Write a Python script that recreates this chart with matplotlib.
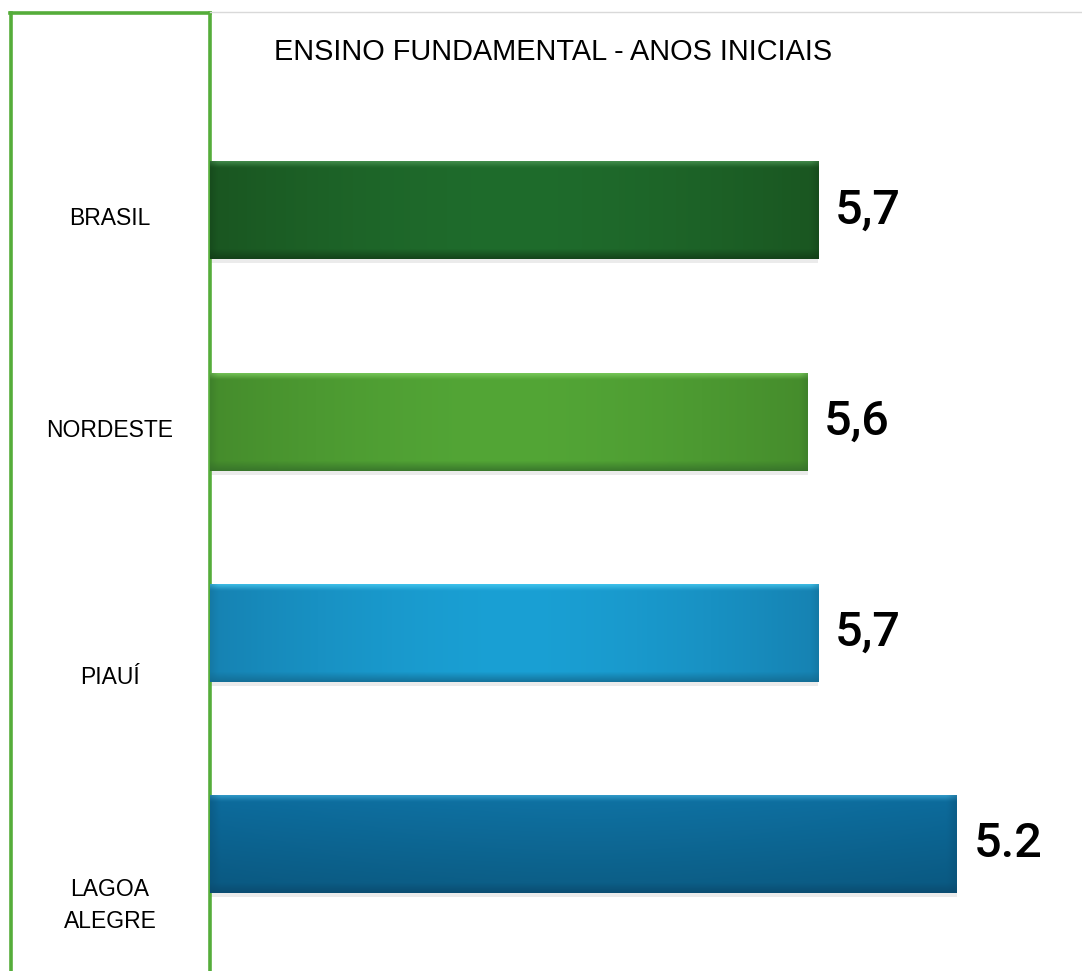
import numpy as np
import matplotlib
matplotlib.use("Agg")
import matplotlib.pyplot as plt
from matplotlib.lines import Line2D
import matplotlib.transforms as mtransforms

# data (bar lengths follow the drawn bars, labels as printed)
categories = ["BRASIL", "NORDESTE", "PIAUÍ", "LAGOA\nALEGRE"]
bar_values = [5.7, 5.6, 5.7, 7.0]
value_labels = ["5,7", "5,6", "5,7", "5.2"]
title = "ENSINO FUNDAMENTAL - ANOS INICIAIS"

# styling: edge colour, centre colour, top highlight, bottom shade
bar_styles = [
    ("#1a5621", "#1f6c2c", "#4f9a58", "#123c17"),
    ("#458c2c", "#53a636", "#84d466", "#35702a"),
    ("#1682b2", "#1aa0d4", "#4cd0f5", "#136a90"),
    ("#0c6796", "#0e6d9c", "#3fa9d6", "#0a4a6e"),
]
label_offsets = [0.04, 0.04, 0.21, 0.29]

plt.rcParams['font.family'] = ['Liberation Sans', 'DejaVu Sans']

W, H = 1082, 971
fig = plt.figure(figsize=(W / 100, H / 100), dpi=100)
ax = fig.add_axes([210 / W, 0, 1 - 210 / W, 1 - 13 / H])

pos = np.arange(len(categories))
bh = 0.465

# soft shadow under each bar
ax.barh(pos + 0.018, bar_values, height=bh, left=0.0, color="#000000", alpha=0.08, zorder=1)
bars = ax.barh(pos, bar_values, height=bh, color="none", zorder=2)


def bar_image(edge, center, hi, lo, vertical=False):
    h, w = 80, 300
    e = np.array(matplotlib.colors.to_rgb(edge))
    c = np.array(matplotlib.colors.to_rgb(center))
    hic = np.array(matplotlib.colors.to_rgb(hi))
    loc = np.array(matplotlib.colors.to_rgb(lo))
    x = np.linspace(0, 1, w)
    y = np.linspace(0, 1, h)
    prof = 1 - np.abs(2 * x - 1) ** 1.6
    img = e[None, None, :] + (c - e)[None, None, :] * prof[None, :, None]
    img = np.repeat(img, h, axis=0)
    if vertical:
        vy = y[:, None, None]
        img = img * (1.05 - 0.2 * vy)
    # top highlight and bottom shade
    top = np.clip(1 - y / 0.07, 0, 1)[:, None, None] * 0.8
    bot = np.clip((y - 0.9) / 0.1, 0, 1)[:, None, None] * 0.8
    img = img * (1 - top) + hic * top
    img = img * (1 - bot) + loc * bot
    # darker ends (bevel)
    ends = np.clip(1 - np.minimum(x, 1 - x) / 0.012, 0, 1)[None, :, None] * 0.35
    img = img * (1 - ends) + loc * ends
    return np.clip(img, 0, 1)


for i, (b, st) in enumerate(zip(bars, bar_styles)):
    x0, y0 = b.get_x(), b.get_y()
    bw, bhh = b.get_width(), b.get_height()
    im = ax.imshow(bar_image(*st, vertical=(i == 3)), extent=(x0, x0 + bw, y0 + bhh, y0),
                   aspect="auto", zorder=3, interpolation="bilinear")
    im.set_clip_path(b)
    ax.annotate(value_labels[i], (x0 + bw, pos[i]), xytext=(12, 0), textcoords="offset points",
                va="center", ha="left", fontsize=35, color="black", zorder=5,
                family=["Roboto", "Liberation Sans"], weight="medium")

ax.set_ylim(3.6, -0.934)
ax.set_xlim(0, (W - 210) / 106.7)

# category labels in the left box
trans = mtransforms.blended_transform_factory(fig.transFigure, ax.transData)
for i, cat in enumerate(categories):
    ax.text(110 / W, pos[i] + label_offsets[i], cat, transform=trans, ha="center", va="center",
            fontsize=16.5, linespacing=1.5, clip_on=False)

for s in ["top", "right", "bottom"]:
    ax.spines[s].set_visible(False)
green = "#55ad3a"
ax.spines["left"].set_color(green)
ax.spines["left"].set_linewidth(2.6)
ax.set_xticks([])
ax.set_yticks([])

# frame lines
fig.add_artist(Line2D([11 / W, 11 / W], [0, 1 - 13 / H], color=green, lw=2.6))
fig.add_artist(Line2D([10 / W, 210 / W], [1 - 13 / H, 1 - 13 / H], color=green, lw=2.6))
fig.add_artist(Line2D([210 / W, 1], [1 - 12 / H, 1 - 12 / H], color="#d9d9d9", lw=1.0))

fig.text(553 / W, 1 - 52 / H, title, ha="center", va="center", fontsize=20.8, color="black")

fig.savefig("out.png", dpi=100)
